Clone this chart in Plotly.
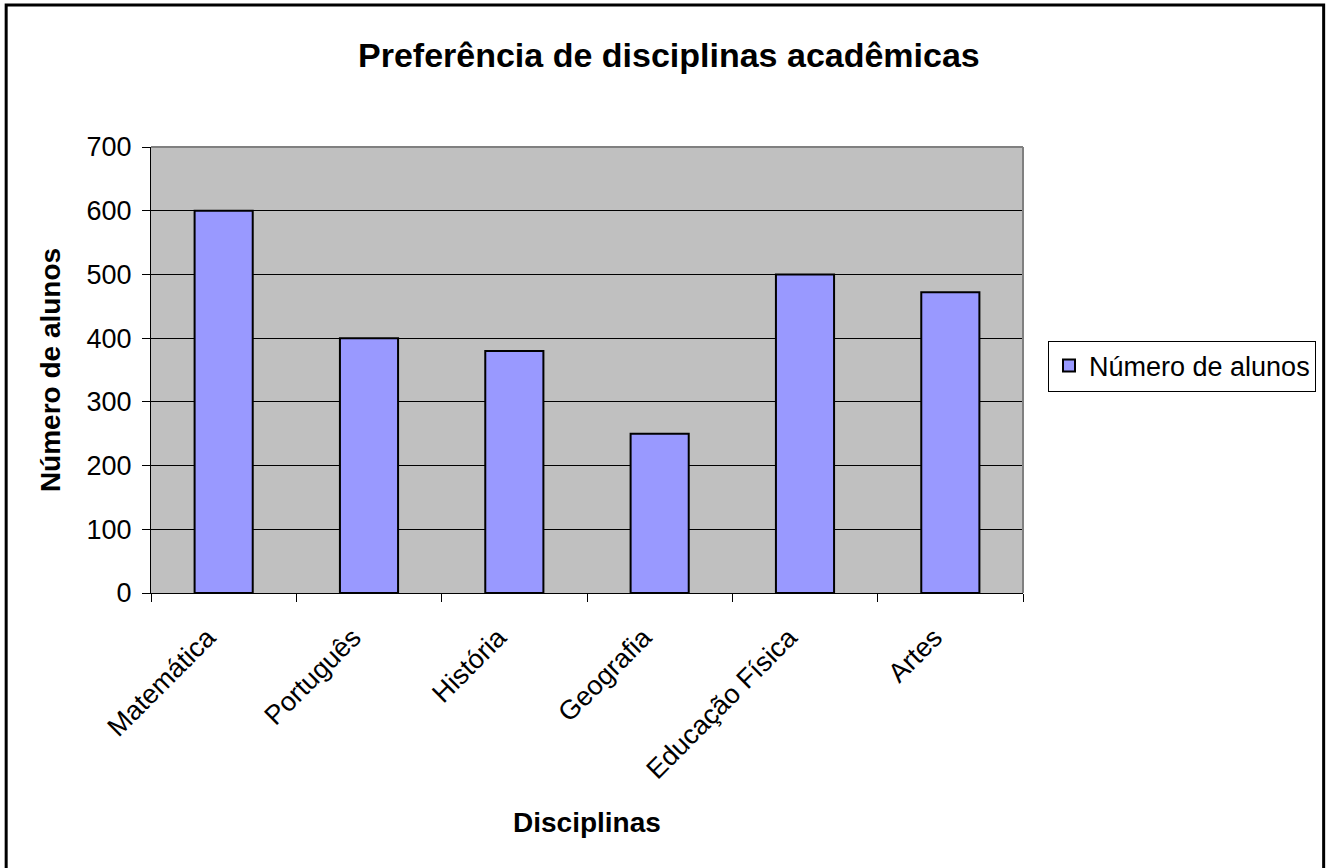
import plotly.graph_objects as go

categorias = ["Matemática", "Português", "História", "Geografia", "Educação Física", "Artes"]
alunos = [600, 400, 380, 250, 500, 472]
serie_nome = "Número de alunos"
titulo = "Preferência de disciplinas acadêmicas"
y_ticks = [0, 100, 200, 300, 400, 500, 600, 700]

FONT = "Arial, Liberation Sans, sans-serif"
W, H = 1327, 868
L, R, T, B = 151, 303, 147, 275
pw, ph = W - L - R, H - T - B
FS = 27

def px_x(x):
    return (x - L) / pw

def px_y(y):
    return (H - B - y) / ph

fig = go.Figure()
fig.add_trace(go.Bar(
    x=categorias, y=alunos, name=serie_nome,
    marker=dict(color="#9999FF", line=dict(color="black", width=2)),
    showlegend=True,
))

fig.update_layout(
    width=W, height=H,
    margin=dict(l=L, r=R, t=T, b=B),
    paper_bgcolor="white",
    plot_bgcolor="#C0C0C0",
    bargap=0.6,
    font=dict(family=FONT, size=FS, color="black"),
    showlegend=True,
    legend=dict(
        x=px_x(1048), y=px_y(366), xanchor="left", yanchor="middle",
        bordercolor="black", borderwidth=1, bgcolor="white",
        font=dict(family=FONT, size=FS, color="black"),
        itemwidth=30,
    ),
    xaxis=dict(
        type="category", tickson="boundaries", ticks="outside", ticklen=8,
        tickcolor="black", tickwidth=1,
        showline=True, linecolor="black", linewidth=1,
        tickangle=-45, showgrid=False,
        ticklabelstandoff=17, ticklabelshift=-16,
        tickfont=dict(family=FONT, size=FS, color="black"),
    ),
    yaxis=dict(
        range=[0, 700], tickvals=y_ticks, ticks="outside", ticklen=8,
        tickcolor="black", tickwidth=1,
        showline=True, linecolor="black", linewidth=1,
        showgrid=True, gridcolor="black", gridwidth=1,
        zeroline=False, ticklabelstandoff=5,
        tickfont=dict(family=FONT, size=FS, color="black"),
    ),
    shapes=[
        dict(type="line", xref="paper", yref="paper", x0=0, x1=1, y0=1, y1=1,
             line=dict(color="#808080", width=2)),
        dict(type="line", xref="paper", yref="paper", x0=1, x1=1, y0=0, y1=1,
             line=dict(color="#808080", width=2)),
        dict(type="rect", xref="paper", yref="paper",
             x0=px_x(6), x1=px_x(1325), y0=px_y(880), y1=px_y(5),
             line=dict(color="black", width=3), layer="above"),
    ],
    annotations=[
        dict(text="<b>" + titulo + "</b>", xref="paper", yref="paper",
             x=px_x(670), y=px_y(55), xanchor="center", yanchor="middle",
             showarrow=False, font=dict(family=FONT, size=34, color="black")),
        dict(text="<b>Número de alunos</b>", xref="paper", yref="paper",
             x=px_x(50), y=px_y(370), xanchor="center", yanchor="middle",
             textangle=-90, showarrow=False,
             font=dict(family=FONT, size=28, color="black")),
        dict(text="<b>Disciplinas</b>", xref="paper", yref="paper",
             x=px_x(588), y=px_y(822), xanchor="center", yanchor="middle",
             showarrow=False, font=dict(family=FONT, size=28, color="black")),
    ],
)

fig.write_html(
    "out.html",
    config={"displayModeBar": False},
    post_script="document.body.style.margin='0';document.body.style.overflow='hidden';",
)
